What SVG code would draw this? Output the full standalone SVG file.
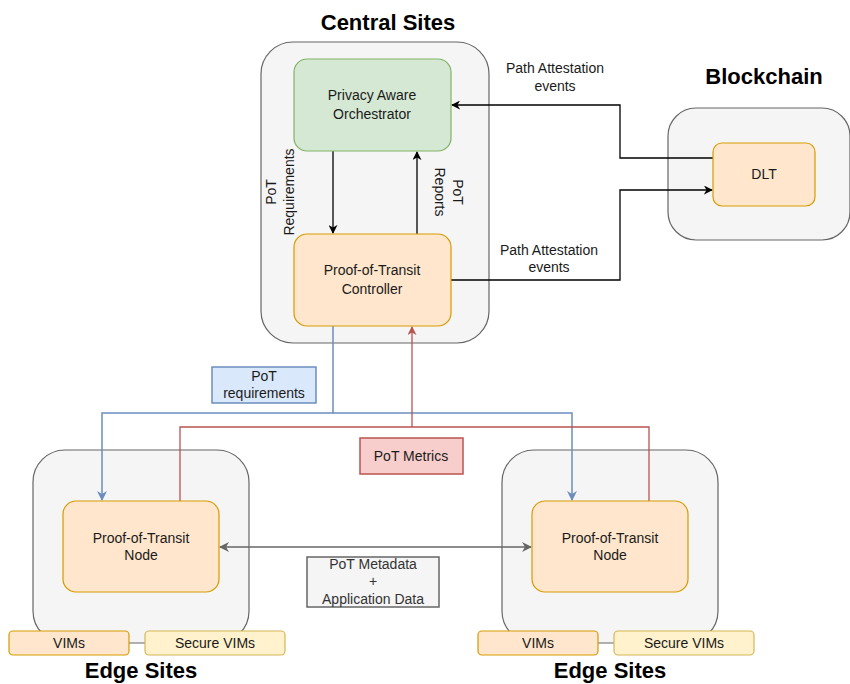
<svg xmlns="http://www.w3.org/2000/svg" width="850" height="684" viewBox="0 0 850 684">
  <style>
    .site { fill: #f5f5f5; stroke: #666666; stroke-width: 1.2; }
    .orange { fill: #ffe6cc; stroke: #d79b00; stroke-width: 1.2; }
    .green { fill: #d5e8d4; stroke: #82b366; stroke-width: 1.2; }
    .yellow { fill: #fff2cc; stroke: #d6b656; stroke-width: 1.2; }
    .blueLbl { fill: #dae8fc; stroke: #6c8ebf; stroke-width: 1.5; }
    .redLbl { fill: #f8cecc; stroke: #b85450; stroke-width: 1.5; }
    .grayLbl { fill: #f5f5f5; stroke: #666666; stroke-width: 1.5; }
    text { font-family: "Liberation Sans", Arial, sans-serif; font-size: 14px; fill: #1a1a1a; text-anchor: middle; }
    .title { font-size: 22px; font-weight: bold; fill: #000000; }
    .muted { fill: #333333; }
    .black { fill: none; stroke: #000000; stroke-width: 1.3; }
    .blue { fill: none; stroke: #6c8ebf; stroke-width: 1.5; }
    .red { fill: none; stroke: #b85450; stroke-width: 1.3; }
    .gray { fill: none; stroke: #666666; stroke-width: 1.3; }
  </style>
  <defs>
    <marker id="arrBlack" viewBox="0 0 10 10" refX="9" refY="5" markerWidth="9" markerHeight="9" markerUnits="userSpaceOnUse" orient="auto-start-reverse">
      <path d="M0,0 L10,5 L0,10 L3,5 z" fill="#000000"/>
    </marker>
    <marker id="arrBlue" viewBox="0 0 10 10" refX="9" refY="5" markerWidth="10" markerHeight="10" markerUnits="userSpaceOnUse" orient="auto-start-reverse">
      <path d="M0,0 L10,5 L0,10 L3,5 z" fill="#6c8ebf"/>
    </marker>
    <marker id="arrRed" viewBox="0 0 10 10" refX="9" refY="5" markerWidth="9" markerHeight="9" markerUnits="userSpaceOnUse" orient="auto-start-reverse">
      <path d="M0,0 L10,5 L0,10 L3,5 z" fill="#b85450"/>
    </marker>
    <marker id="arrGray" viewBox="0 0 10 10" refX="9" refY="5" markerWidth="10" markerHeight="10" markerUnits="userSpaceOnUse" orient="auto-start-reverse">
      <path d="M0,0 L10,5 L0,10 L3,5 z" fill="#666666"/>
    </marker>
  </defs>

  <rect width="850" height="684" fill="#ffffff"/>

  <!-- Site containers -->
  <g id="central-sites">
    <rect class="site" x="261" y="42" width="228" height="301" rx="32"/>
    <text class="title" x="388" y="30">Central Sites</text>
  </g>
  <g id="blockchain">
    <rect class="site" x="668" y="108" width="182" height="132" rx="28"/>
    <text class="title" x="764" y="84">Blockchain</text>
  </g>
  <g id="edge-sites-left">
    <rect class="site" x="33" y="450" width="216" height="193" rx="32"/>
    <text class="title" x="141" y="678">Edge Sites</text>
  </g>
  <g id="edge-sites-right">
    <rect class="site" x="502" y="450" width="216" height="193" rx="32"/>
    <text class="title" x="610" y="678">Edge Sites</text>
  </g>

  <!-- Connectors -->
  <g id="connectors">
    <!-- orchestrator <-> controller -->
    <path class="black" d="M333,151 V233" marker-end="url(#arrBlack)"/>
    <path class="black" d="M417,234 V152" marker-end="url(#arrBlack)"/>
    <!-- DLT -> orchestrator -->
    <path class="black" d="M713,158 H620 V105 H452" marker-end="url(#arrBlack)"/>
    <!-- controller -> DLT -->
    <path class="black" d="M451,280 H620 V190 H712" marker-end="url(#arrBlack)"/>
    <!-- PoT requirements distribution -->
    <path class="blue" d="M333,326 V413 H102 V500" marker-end="url(#arrBlue)"/>
    <path class="blue" d="M333,413 H572 V500" marker-end="url(#arrBlue)"/>
    <!-- PoT metrics collection -->
    <path class="red" d="M180,501 V427 H649 V501"/>
    <path class="red" d="M412,427 V327" marker-end="url(#arrRed)"/>
    <!-- node <-> node data path -->
    <path class="gray" d="M220,547 H531" marker-start="url(#arrGray)" marker-end="url(#arrGray)"/>
  </g>

  <!-- Connector labels -->
  <g id="label-pot-requirements-rot">
    <text transform="translate(281,192) rotate(-90)" y="-5">PoT</text>
    <text transform="translate(281,192) rotate(-90)" y="13">Requirements</text>
  </g>
  <g id="label-pot-reports">
    <text transform="translate(448,192) rotate(90)" y="-5">PoT</text>
    <text transform="translate(448,192) rotate(90)" y="13">Reports</text>
  </g>
  <g id="label-path-attestation-top">
    <text x="555" y="73">Path Attestation</text>
    <text x="555" y="91">events</text>
  </g>
  <g id="label-path-attestation-bottom">
    <text x="549" y="255">Path Attestation</text>
    <text x="549" y="272">events</text>
  </g>
  <g id="label-pot-requirements">
    <rect class="blueLbl" x="212" y="367" width="104" height="36"/>
    <text x="264" y="381">PoT</text>
    <text x="264" y="398">requirements</text>
  </g>
  <g id="label-pot-metrics">
    <rect class="redLbl" x="360" y="438" width="103" height="36"/>
    <text x="411" y="461">PoT Metrics</text>
  </g>
  <g id="label-pot-metadata">
    <rect class="grayLbl" x="307" y="557" width="132" height="50"/>
    <text class="muted" x="373" y="569">PoT Metadata</text>
    <text class="muted" x="373" y="586">+</text>
    <text class="muted" x="373" y="604">Application Data</text>
  </g>

  <!-- Nodes -->
  <g id="orchestrator">
    <rect class="green" x="294" y="59" width="157" height="92" rx="13"/>
    <text x="372" y="100">Privacy Aware</text>
    <text x="372" y="119">Orchestrator</text>
  </g>
  <g id="pot-controller">
    <rect class="orange" x="294" y="234" width="157" height="92" rx="13"/>
    <text x="372" y="275">Proof-of-Transit</text>
    <text x="372" y="294">Controller</text>
  </g>
  <g id="dlt">
    <rect class="orange" x="713" y="143" width="102" height="63" rx="9"/>
    <text x="764" y="179">DLT</text>
  </g>
  <g id="pot-node-left">
    <rect class="orange" x="63" y="501" width="156" height="91" rx="13"/>
    <text x="141" y="543">Proof-of-Transit</text>
    <text x="141" y="560">Node</text>
  </g>
  <g id="pot-node-right">
    <rect class="orange" x="532" y="501" width="156" height="91" rx="13"/>
    <text x="610" y="543">Proof-of-Transit</text>
    <text x="610" y="560">Node</text>
  </g>
  <g id="vims-left">
    <rect class="orange" x="9" y="631" width="120" height="24" rx="4"/>
    <text x="69" y="648">VIMs</text>
  </g>
  <g id="secure-vims-left">
    <rect class="yellow" x="145" y="631" width="140" height="24" rx="4"/>
    <text x="215" y="648">Secure VIMs</text>
  </g>
  <g id="vims-right">
    <rect class="orange" x="478" y="631" width="120" height="24" rx="4"/>
    <text x="538" y="648">VIMs</text>
  </g>
  <g id="secure-vims-right">
    <rect class="yellow" x="614" y="631" width="140" height="24" rx="4"/>
    <text x="684" y="648">Secure VIMs</text>
  </g>
</svg>
